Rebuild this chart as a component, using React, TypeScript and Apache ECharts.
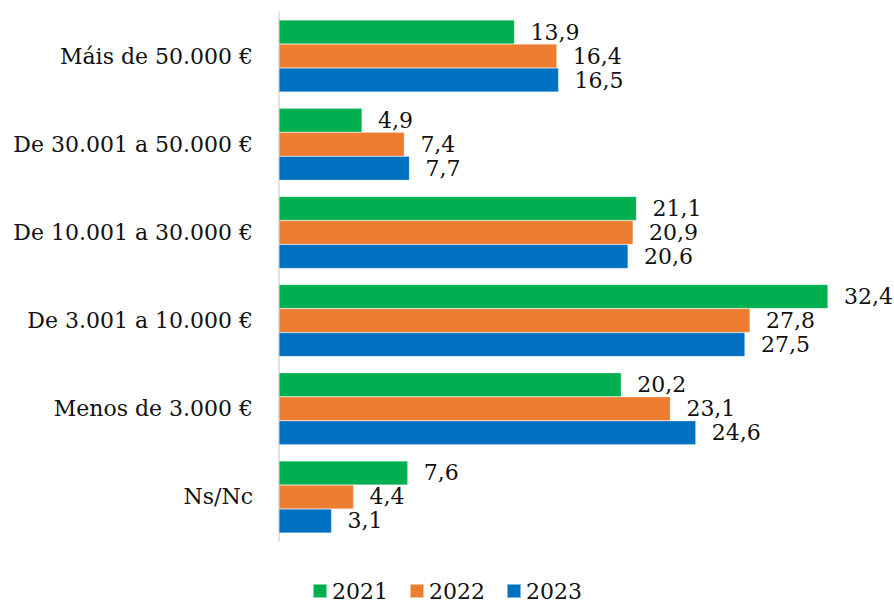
import React, { useEffect, useRef } from "react";
import * as echarts from "echarts";

const categories = [
  "Máis de 50.000 €",
  "De 30.001 a 50.000 €",
  "De 10.001 a 30.000 €",
  "De 3.001 a 10.000 €",
  "Menos de 3.000 €",
  "Ns/Nc",
];
const seriesNames = ["2021", "2022", "2023"];
const values2021 = [13.9, 4.9, 21.1, 32.4, 20.2, 7.6];
const values2022 = [16.4, 7.4, 20.9, 27.8, 23.1, 4.4];
const values2023 = [16.5, 7.7, 20.6, 27.5, 24.6, 3.1];
const colors = ["#00B050", "#ED7D31", "#0070C0"];

const FONT = "DejaVu Serif";

export default function App() {
  const ref = useRef<HTMLDivElement>(null);
  useEffect(() => {
    document.body.style.margin = "0";
    const chart = echarts.init(ref.current!, null, { renderer: "svg" });
    const data = [values2021, values2022, values2023];
    chart.setOption({
      animation: false,
      textStyle: { fontFamily: FONT },
      grid: { left: 279, right: 22, top: 12, bottom: 62 },
      legend: {
        top: 580,
        left: "center",
        icon: "rect",
        itemWidth: 14,
        itemHeight: 14,
        itemGap: 21,
        padding: 0,
        textStyle: { fontFamily: FONT, fontSize: 22, lineHeight: 22, color: "#111111" },
        data: seriesNames,
      },
      xAxis: {
        type: "value",
        min: 0,
        max: 35,
        show: false,
      },
      yAxis: {
        type: "category",
        inverse: true,
        data: categories,
        axisLine: { show: true, lineStyle: { color: "#d9d9d9", width: 1.5 } },
        axisTick: { show: false },
        axisLabel: { fontFamily: FONT, fontSize: 22, color: "#111111", margin: 26 },
      },
      series: seriesNames.map((name, i) => ({
        name,
        type: "bar",
        data: data[i],
        barWidth: 24,
        barGap: "0%",
        itemStyle: { color: colors[i], borderColor: "rgba(255,255,255,0.5)", borderWidth: 0.5 },
        label: {
          show: true,
          position: "right",
          distance: 16,
          fontFamily: FONT,
          fontSize: 22,
          color: "#111111",
          formatter: (p: any) => String(p.value).replace(".", ","),
        },
      })),
    });
    return () => chart.dispose();
  }, []);
  return <div ref={ref} style={{ width: 894, height: 603 }} />;
}
